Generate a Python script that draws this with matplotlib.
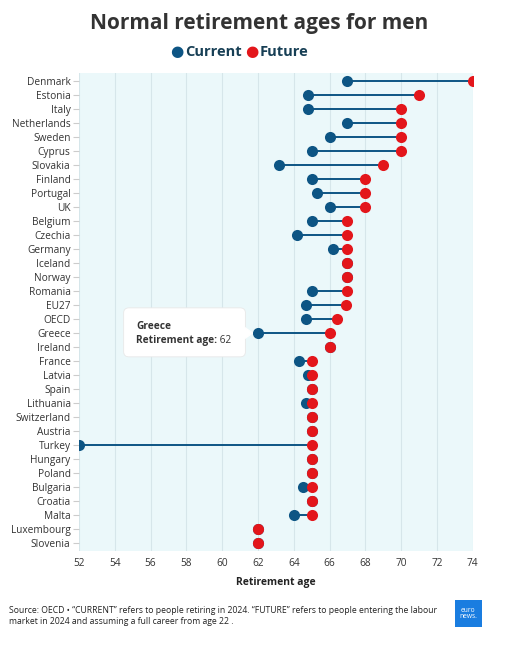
import matplotlib.pyplot as plt
from matplotlib.patches import FancyBboxPatch, Rectangle

countries = ["Denmark", "Estonia", "Italy", "Netherlands", "Sweden", "Cyprus",
             "Slovakia", "Finland", "Portugal", "UK", "Belgium", "Czechia",
             "Germany", "Iceland", "Norway", "Romania", "EU27", "OECD",
             "Greece", "Ireland", "France", "Latvia", "Spain", "Lithuania",
             "Switzerland", "Austria", "Turkey", "Hungary", "Poland",
             "Bulgaria", "Croatia", "Malta", "Luxembourg", "Slovenia"]
current = [67, 64.8, 64.8, 67, 66, 65, 63.2, 65, 65.3, 66, 65, 64.2,
           66.2, 67, 67, 65, 64.7, 64.7, 62, 66, 64.3, 64.8, 65, 64.7,
           65, 65, 52, 65, 65, 64.5, 65, 64, 62, 62]
future = [74, 71, 70, 70, 70, 70, 69, 68, 68, 68, 67, 67,
          67, 67, 67, 67, 66.9, 66.4, 66, 66, 65, 65, 65, 65,
          65, 65, 65, 65, 65, 65, 65, 65, 62, 62]
xticks = list(range(52, 75, 2))

plt.rcParams['font.family'] = ['Open Sans', 'DejaVu Sans']
BLUE = '#0d5584'
RED = '#e3161b'
TXT = '#333333'

fig = plt.figure(figsize=(5.19, 6.48), dpi=100)
ax = fig.add_axes([0.152, 0.1497, 0.759, 0.7375])
ax.set_facecolor('#ebf8fa')
for s in ax.spines.values():
    s.set_visible(False)

y = list(range(len(countries)))
ax.hlines(y, current, future, color=BLUE, lw=1.4, zorder=2)
ax.plot(current, y, 'o', color=BLUE, ms=8, mew=0, zorder=3)
ax.plot(future, y, 'o', color=RED, ms=8, mew=0, zorder=4)

ax.set_xlim(52, 74)
ax.set_ylim(len(countries) - 0.43, -0.57)
ax.set_xticks(xticks)
ax.set_yticks(y)
ax.set_yticklabels(countries)
ax.tick_params(axis='y', length=4, color='#cccccc', labelsize=7.3, labelcolor=TXT, pad=2)
ax.tick_params(axis='x', length=0, labelsize=7.3, labelcolor=TXT, pad=5)
ax.grid(axis='x', color='#d6e6ea', lw=0.8)
ax.set_axisbelow(True)
ax.set_xlabel("Retirement age", fontsize=7.5, fontweight='bold', color='#222222', labelpad=6)

# tooltip for Greece
gi = countries.index("Greece")
box = FancyBboxPatch((54.5, gi - 1.8), 6.8, 3.5, boxstyle="round,pad=0,rounding_size=0.3",
                     fc='white', ec='#e8e8e8', lw=0.6, zorder=6, mutation_aspect=1.2)
ax.add_patch(box)
ax.fill([61.25, 61.7, 61.25], [gi - 0.4, gi, gi + 0.4], color='white', zorder=6)
ax.text(55.2, gi - 0.5, "Greece", fontsize=7.3, fontweight='bold', color=TXT, va='center', zorder=7)
t = ax.text(55.2, gi + 0.5, "Retirement age:", fontsize=7.3, fontweight='bold', color=TXT,
            va='center', zorder=7)
ax.annotate(" 62", xycoords=t, xy=(1, 0.5), va='center', fontsize=7.3, color=TXT, zorder=7,
            annotation_clip=False)

# title and legend
fig.text(0.5, 0.963, "Normal retirement ages for men", ha='center', va='center',
         fontsize=15, fontweight='bold', color='#333333')
fig.text(0.34, 0.919, "●", ha='center', va='center', fontsize=11, color=BLUE)
fig.text(0.356, 0.919, "Current", ha='left', va='center', fontsize=10.5, fontweight='bold', color='#173f55')
fig.text(0.485, 0.919, "●", ha='center', va='center', fontsize=11, color=RED)
fig.text(0.501, 0.919, "Future", ha='left', va='center', fontsize=10.5, fontweight='bold', color='#173f55')

# footer
fig.text(0.017, 0.049, "Source: OECD • \u201cCURRENT\u201d refers to people retiring in 2024. \u201cFUTURE\u201d refers to people entering the labour\n"
         "market in 2024 and assuming a full career from age 22 .",
         ha='left', va='center', fontsize=6.2, color='#222222', linespacing=1.25)
fig.patches.append(Rectangle((0.877, 0.032), 0.051, 0.042, transform=fig.transFigure,
                             fc='#1a7de0', ec='none'))
fig.text(0.9025, 0.053, "euro\nnews.", ha='center', va='center', fontsize=4.8,
         color='white', linespacing=0.85)

fig.savefig("out.png", dpi=100)
